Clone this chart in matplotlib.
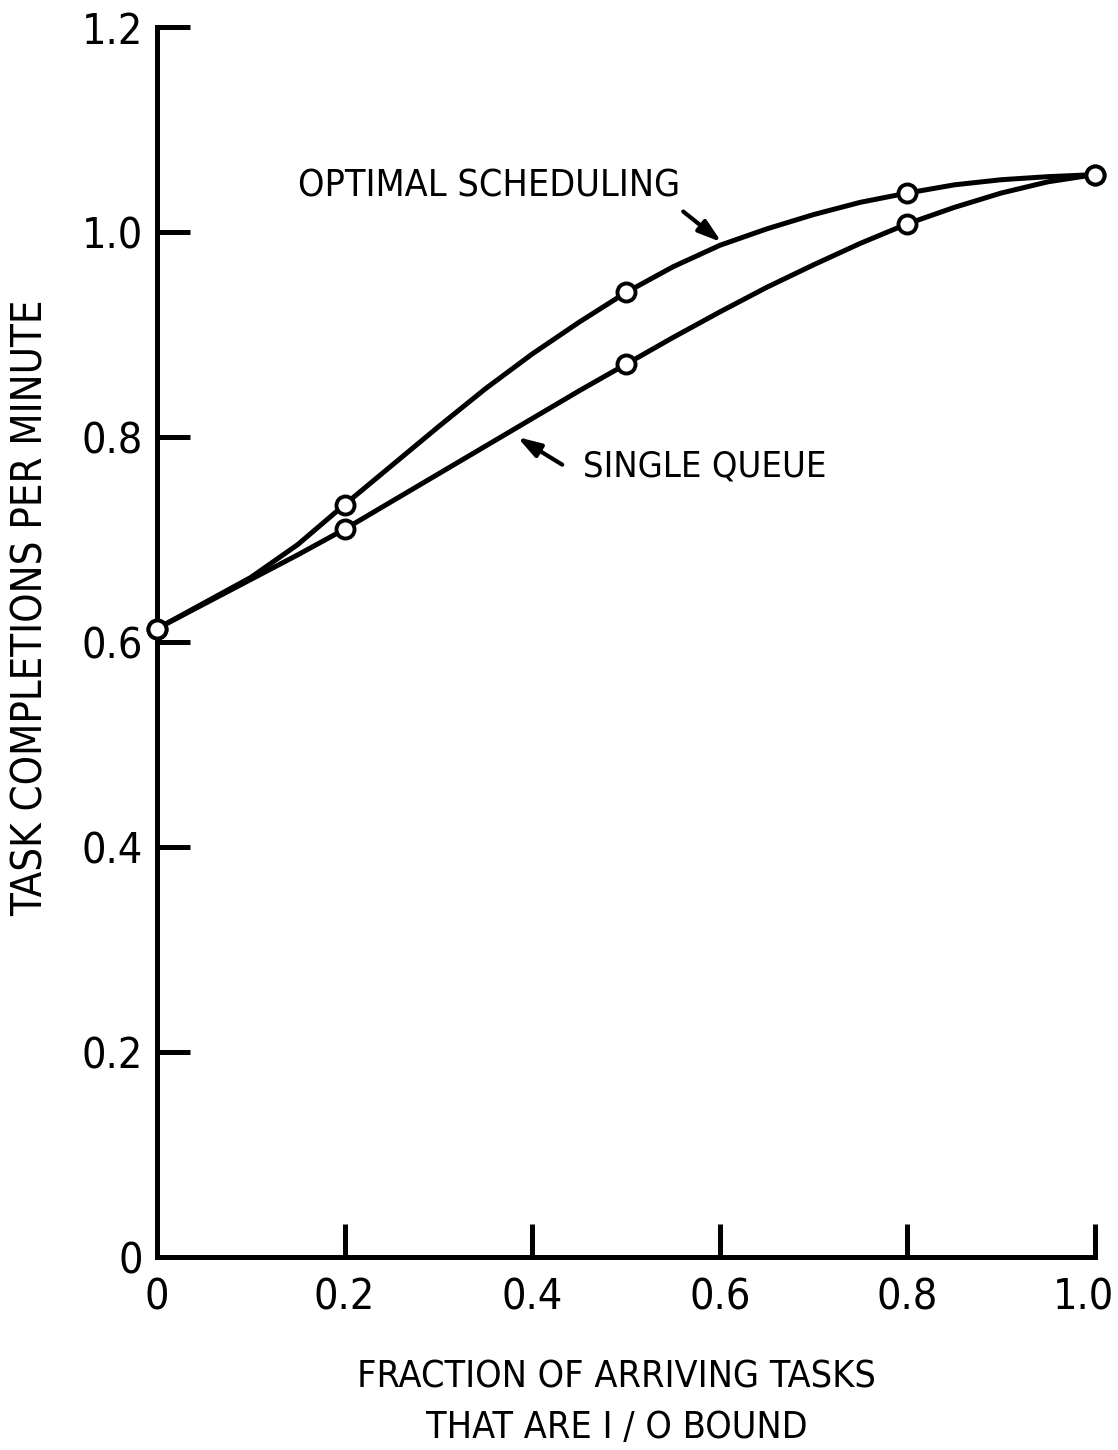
import matplotlib
matplotlib.use("Agg")
from matplotlib import pyplot as plt
from matplotlib import font_manager
from matplotlib.transforms import ScaledTranslation

# Measured throughput at the sampled fractions
point_x = [0.0, 0.2, 0.5, 0.8, 1.0]
optimal_pts = [0.613, 0.734, 0.941, 1.038, 1.056]
single_pts = [0.613, 0.710, 0.871, 1.008, 1.056]

# Hand-drawn curves through those points, read along the x range
curve_x = [0.0, 0.05, 0.1, 0.15, 0.2, 0.25, 0.3, 0.35, 0.4, 0.45, 0.5,
           0.55, 0.6, 0.65, 0.7, 0.75, 0.8, 0.85, 0.9, 0.95, 1.0]
optimal_curve = [0.613, 0.638, 0.663, 0.695, 0.734, 0.772, 0.810, 0.847, 0.881, 0.912, 0.941,
                 0.966, 0.987, 1.003, 1.017, 1.029, 1.038, 1.046, 1.051, 1.054, 1.056]
single_curve = [0.613, 0.637, 0.661, 0.685, 0.710, 0.737, 0.764, 0.791, 0.818, 0.845, 0.871,
                0.897, 0.922, 0.946, 0.968, 0.989, 1.008, 1.024, 1.038, 1.049, 1.056]

x_ticks = [0.0, 0.2, 0.4, 0.6, 0.8, 1.0]
x_labels = ["0", "0.2", "0.4", "0.6", "0.8", "1.0"]
y_ticks = [0.0, 0.2, 0.4, 0.6, 0.8, 1.0, 1.2]
y_labels = ["0", "0.2", "0.4", "0.6", "0.8", "1.0", "1.2"]


def narrow_font():
    # prefer a condensed face, lettering on this kind of chart is tall and thin
    for key in ("SansNarrow-Regular", "SansCondensed.ttf", "Condensed-Regular", "Narrow"):
        for f in font_manager.fontManager.ttflist:
            if key in f.fname and "Bold" not in f.fname and "Oblique" not in f.fname:
                return font_manager.FontProperties(fname=f.fname)
    return font_manager.FontProperties(family="DejaVu Sans")


fp = narrow_font()


def fprop(size):
    p = fp.copy()
    p.set_size(size)
    return p


fig = plt.figure(figsize=(11.18, 14.5), dpi=100)
ax = fig.add_axes([157 / 1118, 193 / 1450, 938 / 1118, 1230 / 1450])

lw = 3.6
ax.plot(curve_x, optimal_curve, color="black", lw=lw, solid_capstyle="round",
        solid_joinstyle="round", zorder=2)
ax.plot(curve_x, single_curve, color="black", lw=lw, solid_capstyle="round",
        solid_joinstyle="round", zorder=2)
for ys in (optimal_pts, single_pts):
    ax.plot(point_x, ys, ls="none", marker="o", ms=13, mfc="white", mec="black", mew=2.8, zorder=3,
            clip_on=False)

ax.set_xlim(0, 1.0)
ax.set_ylim(0, 1.2)
for side in ("top", "right"):
    ax.spines[side].set_visible(False)
for side in ("left", "bottom"):
    ax.spines[side].set_linewidth(lw)

ax.set_xticks(x_ticks)
ax.set_xticklabels(x_labels, fontproperties=fprop(31))
ax.set_yticks(y_ticks)
ax.set_yticklabels(y_labels, fontproperties=fprop(31))
ax.tick_params(axis="both", direction="in", length=24, width=lw)
ax.tick_params(axis="x", pad=14)
ax.tick_params(axis="y", pad=10)
ax.xaxis.get_major_ticks()[0].tick1line.set_visible(False)

# pull the last x label in so it stays on the page
last = ax.get_xticklabels()[-1]
last.set_transform(last.get_transform() + ScaledTranslation(-0.12, 0, fig.dpi_scale_trans))

ax.set_xlabel("FRACTION OF ARRIVING TASKS\nTHAT ARE I / O BOUND", fontproperties=fprop(27),
              linespacing=1.55)
ax.xaxis.set_label_coords(0.49, -0.083, transform=ax.transAxes)
ax.xaxis.label.set_va("top")
ax.set_ylabel("TASK COMPLETIONS PER MINUTE", fontproperties=fprop(30))
ax.yaxis.set_label_coords(-0.135, 0.528, transform=ax.transAxes)
ax.yaxis.label.set_va("center")

# curve labels with their pointer arrows
ax.text(0.150, 1.044, "OPTIMAL SCHEDULING", fontproperties=fprop(27), va="center", ha="left")
ax.text(0.454, 0.771, "SINGLE QUEUE", fontproperties=fprop(26), va="center", ha="left")
arrow = dict(arrowstyle="-|>,head_length=0.7,head_width=0.22", color="black", lw=3,
             mutation_scale=20, shrinkA=0, shrinkB=0)
ax.annotate("", xy=(0.602, 0.990), xytext=(0.561, 1.020), arrowprops=arrow)
ax.annotate("", xy=(0.384, 0.800), xytext=(0.432, 0.773), arrowprops=arrow)

fig.savefig("out.png", dpi=100)
